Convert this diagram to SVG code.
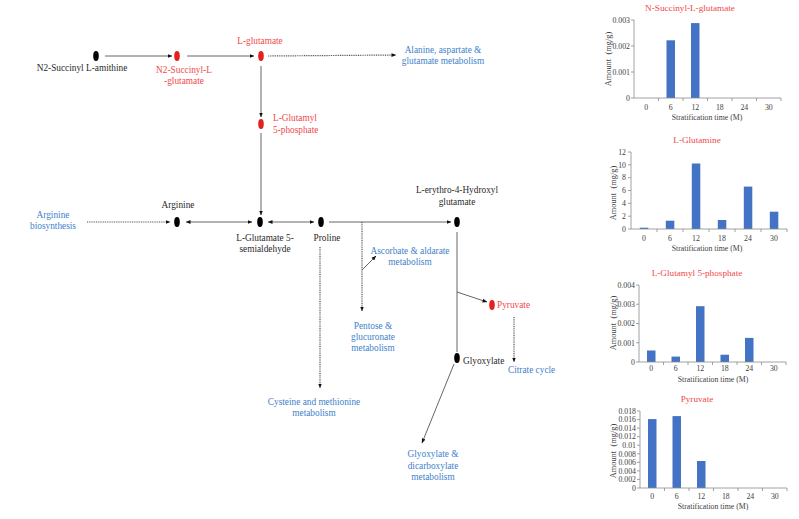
<svg xmlns="http://www.w3.org/2000/svg" width="799" height="519" viewBox="0 0 799 519">
<style>
text{font-family:"Liberation Serif","Times New Roman",serif;}
.t{font-size:9.3px;fill:#2a2a2a;text-anchor:middle}
.ts{font-size:9.3px;fill:#2a2a2a}
.r{fill:#F0484A}
.b{fill:#3D7FCB}
.nb{fill:#000}
.nr{fill:#E3211F}
.ln{fill:none;stroke:#555;stroke-width:0.9}
.dt{fill:none;stroke:#555;stroke-width:1.2;stroke-dasharray:1 0.8}
.ax{fill:none;stroke:#8c8c8c;stroke-width:0.8}
.bar{fill:#4472C4}
.tk{font-size:7.8px;fill:#404040;text-anchor:end}
.tx{font-size:7.8px;fill:#404040;text-anchor:middle}
.ya{font-size:8.3px;fill:#404040;text-anchor:middle}
.ttl{font-size:9.2px;fill:#F0484A;text-anchor:middle}
</style>
<defs>
<marker id="ah" markerWidth="5" markerHeight="5" refX="4.5" refY="2.5" orient="auto" markerUnits="userSpaceOnUse">
<path d="M0,0.6 L4.8,2.5 L0,4.4 Z" fill="#111"/>
</marker>
<marker id="as" markerWidth="5" markerHeight="5" refX="0.3" refY="2.5" orient="auto" markerUnits="userSpaceOnUse">
<path d="M4.8,0.6 L0,2.5 L4.8,4.4 Z" fill="#111"/>
</marker>
</defs>
<rect width="799" height="519" fill="#fff"/>

<g id="connectors">
<path class="ln" d="M105,56 H172" marker-end="url(#ah)"/>
<path class="ln" d="M187,56 H254" marker-end="url(#ah)"/>
<path class="dt" d="M268,56 L396,55" marker-end="url(#ah)"/>
<path class="ln" d="M261,66 V117" marker-end="url(#ah)"/>
<path class="ln" d="M261,133 V215" marker-end="url(#ah)"/>
<path class="dt" d="M87,222 H170" marker-end="url(#ah)"/>
<path class="ln" d="M186,222 H252" marker-start="url(#as)" marker-end="url(#ah)"/>
<path class="ln" d="M268,222 H314" marker-start="url(#as)" marker-end="url(#ah)"/>
<path class="ln" d="M329,222 H451" marker-end="url(#ah)"/>
<path class="dt" d="M362,222 V311" marker-end="url(#ah)"/>
<path class="ln" d="M362,270 L376,256" marker-end="url(#ah)"/>
<path class="dt" d="M320,247 V388" marker-end="url(#ah)"/>
<path class="ln" d="M457,232 V352"/>
<path class="ln" d="M457,292 L487,302" marker-end="url(#ah)"/>
<path class="dt" d="M514,317 V362" marker-end="url(#ah)"/>
<path class="ln" d="M454,364 L422,443" marker-end="url(#ah)"/>
</g>

<g id="n2-succinyl-l-amithine"><ellipse class="nb" cx="96" cy="56" rx="2.8" ry="5"/><text class="t" x="82" y="71">N2-Succinyl L-amithine</text></g>
<g id="n2-succinyl-l-glutamate"><ellipse class="nr" cx="177" cy="56" rx="2.8" ry="5"/><text class="t r" x="184" y="73">N2-Succinyl-L</text><text class="t r" x="184" y="84">-glutamate</text></g>
<g id="l-glutamate"><ellipse class="nr" cx="261" cy="56" rx="2.8" ry="5"/><text class="t r" x="260" y="44">L-glutamate</text></g>
<g id="alanine-metabolism"><text class="t b" x="443" y="53">Alanine, aspartate &amp;</text><text class="t b" x="443" y="64">glutamate metabolism</text></g>
<g id="l-glutamyl-5-phosphate"><ellipse class="nr" cx="261" cy="124" rx="2.8" ry="5"/><text class="ts r" x="273" y="121">L-Glutamyl</text><text class="ts r" x="273" y="133">5-phosphate</text></g>
<g id="arginine-biosynthesis"><text class="t b" x="53" y="218">Arginine</text><text class="t b" x="53" y="229">biosynthesis</text></g>
<g id="arginine"><ellipse class="nb" cx="177" cy="222" rx="2.8" ry="5"/><text class="t" x="178" y="208">Arginine</text></g>
<g id="l-glutamate-5-semialdehyde"><ellipse class="nb" cx="260" cy="222" rx="2.8" ry="5"/><text class="t" x="265" y="241">L-Glutamate 5-</text><text class="t" x="265" y="252">semialdehyde</text></g>
<g id="proline"><ellipse class="nb" cx="321" cy="222" rx="2.8" ry="5"/><text class="t" x="327" y="241">Proline</text></g>
<g id="l-erythro-4-hydroxyl-glutamate"><ellipse class="nb" cx="457" cy="222" rx="2.8" ry="5"/><text class="t" x="457" y="193">L-erythro-4-Hydroxyl</text><text class="t" x="457" y="205">glutamate</text></g>
<g id="ascorbate-metabolism"><text class="t b" x="410" y="254">Ascorbate &amp; aldarate</text><text class="t b" x="410" y="265">metabolism</text></g>
<g id="pentose-metabolism"><text class="t b" x="373" y="329">Pentose &amp;</text><text class="t b" x="373" y="340">glucuronate</text><text class="t b" x="373" y="351">metabolism</text></g>
<g id="pyruvate"><ellipse class="nr" cx="492" cy="305" rx="2.8" ry="5"/><text class="ts r" x="497" y="308">Pyruvate</text></g>
<g id="citrate-cycle"><text class="ts b" x="508" y="373">Citrate cycle</text></g>
<g id="glyoxylate"><ellipse class="nb" cx="457" cy="358" rx="2.8" ry="5"/><text class="ts" x="463" y="364">Glyoxylate</text></g>
<g id="cysteine-metabolism"><text class="t b" x="314" y="405">Cysteine and methionine</text><text class="t b" x="314" y="416">metabolism</text></g>
<g id="glyoxylate-metabolism"><text class="t b" x="433" y="457">Glyoxylate &amp;</text><text class="t b" x="433" y="469">dicarboxylate</text><text class="t b" x="433" y="480">metabolism</text></g>

<g id="chart-n-succinyl">
<text class="ttl" x="690" y="11">N-Succinyl-L-glutamate</text>
<rect class="bar" x="666.5" y="40.3" width="8.5" height="57.7"/>
<rect class="bar" x="691" y="23.1" width="8.5" height="74.9"/>
<path class="ax" d="M634,20 V98 H781 M631,20 H634 M631,46 H634 M631,72 H634 M631,98 H634 M658.5,98 v3 M683,98 v3 M707.5,98 v3 M732,98 v3 M756.5,98 v3 M781,98 v3"/>
<text class="tk" x="630" y="22.7">0.003</text><text class="tk" x="630" y="48.7">0.002</text><text class="tk" x="630" y="74.7">0.001</text><text class="tk" x="630" y="100.7">0</text>
<text class="tx" x="646.3" y="110">0</text><text class="tx" x="670.8" y="110">6</text><text class="tx" x="695.3" y="110">12</text><text class="tx" x="719.8" y="110">18</text><text class="tx" x="744.3" y="110">24</text><text class="tx" x="768.8" y="110">30</text>
<text class="tx" x="707" y="120">Stratification time (M)</text>
<text class="ya" transform="translate(611,59) rotate(-90)" word-spacing="2.5">Amount (mg/g)</text>
</g>

<g id="chart-l-glutamine">
<text class="ttl" x="697" y="143">L-Glutamine</text>
<rect class="bar" x="639.8" y="227.7" width="8.5" height="1.3"/>
<rect class="bar" x="665.8" y="220.7" width="8.5" height="8.3"/>
<rect class="bar" x="691.8" y="163.5" width="8.5" height="65.5"/>
<rect class="bar" x="717.8" y="220" width="8.5" height="9"/>
<rect class="bar" x="743.8" y="186.6" width="8.5" height="42.4"/>
<rect class="bar" x="769.8" y="211.7" width="8.5" height="17.3"/>
<path class="ax" d="M631,152 V229 H787 M628,152 H631 M628,164.8 H631 M628,177.7 H631 M628,190.5 H631 M628,203.3 H631 M628,216.2 H631 M628,229 H631 M657,229 v3 M683,229 v3 M709,229 v3 M735,229 v3 M761,229 v3 M787,229 v3"/>
<text class="tk" x="626" y="154.7">12</text><text class="tk" x="626" y="167.5">10</text><text class="tk" x="626" y="180.4">8</text><text class="tk" x="626" y="193.2">6</text><text class="tk" x="626" y="206">4</text><text class="tk" x="626" y="218.9">2</text><text class="tk" x="626" y="231.7">0</text>
<text class="tx" x="644" y="241">0</text><text class="tx" x="670" y="241">6</text><text class="tx" x="696" y="241">12</text><text class="tx" x="722" y="241">18</text><text class="tx" x="748" y="241">24</text><text class="tx" x="774" y="241">30</text>
<text class="tx" x="707" y="251">Stratification time (M)</text>
<text class="ya" transform="translate(616,193) rotate(-90)" word-spacing="2.5">Amount (mg/g)</text>
</g>

<g id="chart-l-glutamyl-5-phosphate">
<text class="ttl" x="697" y="276">L-Glutamyl 5-phosphate</text>
<rect class="bar" x="647" y="350.5" width="8.5" height="11.5"/>
<rect class="bar" x="671.5" y="356.6" width="8.5" height="5.4"/>
<rect class="bar" x="696" y="306.2" width="8.5" height="55.8"/>
<rect class="bar" x="720.5" y="354.7" width="8.5" height="7.3"/>
<rect class="bar" x="745" y="337.9" width="8.5" height="24.1"/>
<path class="ax" d="M639,285 V362 H786 M636,285 H639 M636,304.25 H639 M636,323.5 H639 M636,342.75 H639 M636,362 H639 M663.5,362 v3 M688,362 v3 M712.5,362 v3 M737,362 v3 M761.5,362 v3 M786,362 v3"/>
<text class="tk" x="635" y="287.7">0.004</text><text class="tk" x="635" y="307">0.003</text><text class="tk" x="635" y="326.2">0.002</text><text class="tk" x="635" y="345.5">0.001</text><text class="tk" x="635" y="364.7">0</text>
<text class="tx" x="651.3" y="371">0</text><text class="tx" x="675.8" y="371">6</text><text class="tx" x="700.3" y="371">12</text><text class="tx" x="724.8" y="371">18</text><text class="tx" x="749.3" y="371">24</text><text class="tx" x="773.8" y="371">30</text>
<text class="tx" x="713" y="382">Stratification time (M)</text>
<text class="ya" transform="translate(616,323) rotate(-90)" word-spacing="2.5">Amount (mg/g)</text>
</g>

<g id="chart-pyruvate">
<text class="ttl" x="697" y="402">Pyruvate</text>
<rect class="bar" x="648" y="419.1" width="8.5" height="68.9"/>
<rect class="bar" x="672.5" y="416.1" width="8.5" height="71.9"/>
<rect class="bar" x="697" y="461" width="8.5" height="27"/>
<path class="ax" d="M640,411 V488 H787 M637,411 H640 M637,419.6 H640 M637,428.1 H640 M637,436.7 H640 M637,445.2 H640 M637,453.8 H640 M637,462.3 H640 M637,470.9 H640 M637,479.4 H640 M637,488 H640 M664.5,488 v3 M689,488 v3 M713.5,488 v3 M738,488 v3 M762.5,488 v3 M787,488 v3"/>
<text class="tk" x="636" y="413.7">0.018</text><text class="tk" x="636" y="422.3">0.016</text><text class="tk" x="636" y="430.8">0.014</text><text class="tk" x="636" y="439.4">0.012</text><text class="tk" x="636" y="447.9">0.01</text><text class="tk" x="636" y="456.5">0.008</text><text class="tk" x="636" y="465">0.006</text><text class="tk" x="636" y="473.6">0.004</text><text class="tk" x="636" y="482.1">0.002</text><text class="tk" x="636" y="490.7">0</text>
<text class="tx" x="652.3" y="499">0</text><text class="tx" x="676.8" y="499">6</text><text class="tx" x="701.3" y="499">12</text><text class="tx" x="725.8" y="499">18</text><text class="tx" x="750.3" y="499">24</text><text class="tx" x="774.8" y="499">30</text>
<text class="tx" x="713" y="509">Stratification time (M)</text>
<text class="ya" transform="translate(616,451) rotate(-90)" word-spacing="2.5">Amount (mg/g)</text>
</g>
</svg>
